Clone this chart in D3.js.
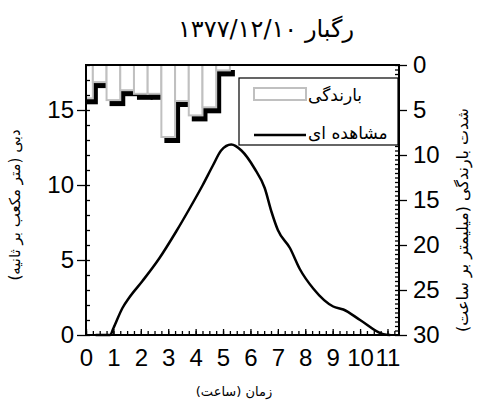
<!DOCTYPE html>
<html>
<head>
<meta charset="utf-8">
<script src="https://cdn.jsdelivr.net/npm/d3@7"></script>
<style>
  body { margin: 0; background: #fff; }
  svg { display: block; }
  .num text { font-family: "Liberation Sans", Arial, sans-serif; font-size: 24px; fill: #000; }
  .fa { font-family: "DejaVu Sans", sans-serif; fill: #000; }
</style>
</head>
<body>
<div id="chart"></div>
<script>
// hydrograph (observed discharge, m3/s)
const hours = [0.35, 0.88, 1.0, 1.33, 1.58, 2.06, 2.67, 3.29, 3.77, 4.26, 4.63, 4.93, 5.3, 5.67, 6.15, 6.52, 6.77, 7.0, 7.44, 7.8, 8.29, 9.02, 9.39, 10.0, 10.85, 11.1];
const discharge = [0, 0, 0.45, 1.8, 2.5, 3.6, 5.1, 6.9, 8.4, 10.0, 11.3, 12.3, 12.7, 12.3, 11.1, 9.8, 8.2, 7.0, 5.8, 4.4, 3.1, 1.9, 1.7, 1.0, 0.05, 0];

// rainfall intensity (mm/h), half-hour blocks
const rainTime = [0, 0.5, 1, 1.5, 2, 2.5, 3, 3.5, 4, 4.5, 5];
const rainIntensity = [3.7, 1.9, 3.9, 2.8, 3.2, 3.2, 8.0, 4.0, 5.6, 4.7, 0.6];

const xTicks = [0, 1, 2, 3, 4, 5, 6, 7, 8, 9, 10, 11];
const qTicks = [0, 5, 10, 15];
const iTicks = [0, 5, 10, 15, 20, 25, 30];

const title = "رگبار ۱۳۷۷/۱۲/۱۰";
const xTitle = "زمان (ساعت)";
const qTitle = "دبی (متر مکعب بر ثانیه)";
const iTitle = "شدت بارندگی (میلیمتر بر ساعت)";
const legendRain = "بارندگی";
const legendObs = "مشاهده ای";

const W = 480, H = 411;
const pLeft = 86, pRight = 399, pTop = 65, pBottom = 335;

const svg = d3.select("#chart").append("svg")
    .attr("width", W)
    .attr("height", H);

const x = d3.scaleLinear().domain([0, 11.42]).range([pLeft, pRight]);
const yQ = d3.scaleLinear().domain([0, 18]).range([pBottom, pTop]);
const yI = d3.scaleLinear().domain([0, 30]).range([pTop, pBottom]);

svg.append("clipPath").attr("id", "plot")
    .append("rect")
    .attr("x", pLeft).attr("y", pTop)
    .attr("width", pRight - pLeft).attr("height", pBottom - pTop);

// bars hanging from top, with black shadow
const halfW = 0.25;
const bars = svg.append("g").attr("clip-path", "url(#plot)");
const rain = rainTime.map((t, i) => ({ t, v: rainIntensity[i] }));

bars.selectAll(".shadow")
    .data(rain)
    .enter().append("rect")
    .attr("class", "shadow")
    .attr("x", d => x(d.t - halfW) - 1 + 4)
    .attr("y", pTop + 5)
    .attr("width", d => x(d.t + halfW) - x(d.t - halfW) + 2)
    .attr("height", d => yI(d.v) + 1 - pTop)
    .style("fill", "#000");

bars.selectAll(".bar")
    .data(rain)
    .enter().append("rect")
    .attr("class", "bar")
    .attr("x", d => x(d.t - halfW))
    .attr("y", pTop)
    .attr("width", d => x(d.t + halfW) - x(d.t - halfW))
    .attr("height", d => yI(d.v) - pTop)
    .style("fill", "#fff")
    .style("stroke", "#c0c0c0")
    .style("stroke-width", 2);

// observed hydrograph
const line = d3.line()
    .x(d => x(d[0]))
    .y(d => yQ(d[1]))
    .curve(d3.curveMonotoneX);

svg.append("path")
    .datum(hours.map((h, i) => [h, discharge[i]]))
    .attr("d", line)
    .style("fill", "none")
    .style("stroke", "#000")
    .style("stroke-width", 2.5);

// minor ticks (inward)
svg.append("g")
    .attr("transform", `translate(0,${pBottom})`)
    .call(d3.axisTop(x).tickValues(d3.range(0, 11.3, 0.25)).tickSize(4).tickFormat("").tickSizeOuter(0))
    .call(g => g.select(".domain").remove());
svg.append("g")
    .attr("transform", `translate(0,${pBottom})`)
    .call(d3.axisTop(x).tickValues(d3.range(0, 11.3, 1)).tickSize(6).tickFormat("").tickSizeOuter(0))
    .call(g => g.select(".domain").remove());
svg.append("g")
    .attr("transform", `translate(${pLeft},0)`)
    .call(d3.axisRight(yQ).tickValues(d3.range(0, 19, 1)).tickSize(4).tickFormat("").tickSizeOuter(0))
    .call(g => g.select(".domain").remove());
svg.append("g")
    .attr("transform", `translate(${pRight},0)`)
    .call(d3.axisLeft(yI).tickValues(d3.range(0, 30.1, 0.5)).tickSize(4).tickFormat("").tickSizeOuter(0))
    .call(g => g.select(".domain").remove());

// major ticks and labels
svg.append("g")
    .attr("class", "num")
    .attr("transform", `translate(${pLeft},0)`)
    .call(d3.axisLeft(yQ).tickValues(qTicks).tickSize(9).tickPadding(3).tickSizeOuter(0))
    .call(g => g.select(".domain").remove());
svg.append("g")
    .attr("class", "num")
    .attr("transform", `translate(${pRight},0)`)
    .call(d3.axisRight(yI).tickValues(iTicks).tickSize(8).tickPadding(6).tickSizeOuter(0))
    .call(g => g.select(".domain").remove());
svg.append("g")
    .attr("class", "num")
    .attr("transform", `translate(0,${pBottom})`)
    .call(d3.axisBottom(x).tickValues(xTicks).tickSize(0).tickPadding(14).tickSizeOuter(0))
    .call(g => g.select(".domain").remove());

svg.selectAll(".tick line").style("stroke", "#000").style("stroke-width", 1.3);

// frame
svg.append("rect")
    .attr("x", pLeft).attr("y", pTop)
    .attr("width", pRight - pLeft).attr("height", pBottom - pTop)
    .style("fill", "none")
    .style("stroke", "#000")
    .style("stroke-width", 2);

// legend
const lg = svg.append("g");
lg.append("rect")
    .attr("x", 239).attr("y", 78).attr("width", 159).attr("height", 67)
    .style("fill", "#fff").style("stroke", "#000").style("stroke-width", 1.2);
lg.append("rect")
    .attr("x", 254).attr("y", 88).attr("width", 52).attr("height", 12)
    .style("fill", "#fff").style("stroke", "#c0c0c0").style("stroke-width", 2);
lg.append("line")
    .attr("x1", 254).attr("x2", 306).attr("y1", 135).attr("y2", 135)
    .style("stroke", "#000").style("stroke-width", 2.5);
lg.append("text").attr("class", "fa")
    .attr("x", 308).attr("y", 101)
    .style("font-size", "17px")
    .text(legendRain);
lg.append("text").attr("class", "fa")
    .attr("x", 308).attr("y", 139)
    .style("font-size", "17px")
    .text(legendObs);

// titles
svg.append("text").attr("class", "fa")
    .attr("x", 266).attr("y", 37)
    .attr("direction", "rtl")
    .attr("text-anchor", "middle")
    .style("font-size", "24px")
    .text(title);
svg.append("text").attr("class", "fa")
    .attr("x", 234).attr("y", 396)
    .attr("direction", "rtl")
    .attr("text-anchor", "middle")
    .style("font-size", "13px")
    .text(xTitle);
svg.append("text").attr("class", "fa")
    .attr("transform", "translate(20,205) rotate(-90)")
    .attr("direction", "rtl")
    .attr("text-anchor", "middle")
    .style("font-size", "15px")
    .text(qTitle);
svg.append("text").attr("class", "fa")
    .attr("transform", "translate(468,220) rotate(-90)")
    .attr("direction", "rtl")
    .attr("text-anchor", "middle")
    .style("font-size", "16px")
    .text(iTitle);
</script>
</body>
</html>
